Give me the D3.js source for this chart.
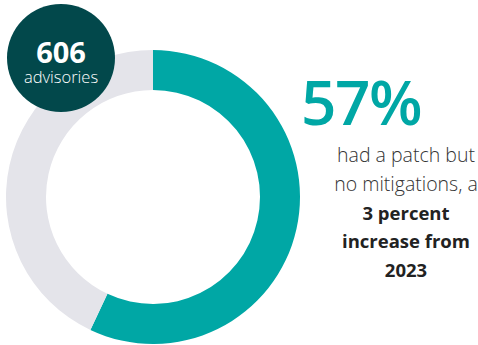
<!DOCTYPE html>
<html>
<head>
<meta charset="utf-8">
<script src="https://cdn.jsdelivr.net/npm/d3@7"></script>
<style>
  body { margin: 0; background: #fff; }
  svg { display: block; font-family: "Open Sans", "Noto Sans", sans-serif; }
</style>
</head>
<body>
<svg id="chart" width="478" height="345"></svg>
<script>
// share of advisories
var categories = ["Patch, no mitigations", "Other"];
var values = [57, 43];
var colors = ["#00a7a5", "#e4e4ea"];

var totalLabel = "606";
var totalSub = "advisories";
var bigLabel = "57%";
var noteLines = [
  { text: "had a patch but", bold: false },
  { text: "no mitigations, a", bold: false },
  { text: "3 percent", bold: true },
  { text: "increase from", bold: true },
  { text: "2023", bold: true }
];

var svg = d3.select("#chart");

var cx = 153, cy = 197,
  outerR = 147, innerR = 107;

var pie = d3.pie().sort(null).value(d => d);
var arc = d3.arc().innerRadius(innerR).outerRadius(outerR);

var g = svg.append("g")
  .attr("transform", "translate(" + cx + "," + cy + ")");

g.selectAll("path")
  .data(pie(values))
  .enter().append("path")
    .attr("d", arc)
    .attr("fill", (d, i) => colors[i]);

// total badge
var badge = svg.append("g").attr("transform", "translate(61,58)");
badge.append("circle")
  .attr("r", 54)
  .attr("fill", "#02484b");
badge.append("text")
  .attr("y", 5)
  .attr("text-anchor", "middle")
  .attr("fill", "#fff")
  .attr("font-size", 29)
  .attr("font-weight", 700)
  .text(totalLabel);
badge.append("text")
  .attr("y", 25)
  .attr("text-anchor", "middle")
  .attr("fill", "#fff")
  .attr("font-size", 16.5)
  .attr("font-weight", 300)
  .text(totalSub);

// callout
svg.append("text")
  .attr("x", 361)
  .attr("y", 125)
  .attr("text-anchor", "middle")
  .attr("fill", "#00a7a5")
  .attr("font-size", 62)
  .attr("font-weight", 600)
  .attr("letter-spacing", -1.5)
  .text(bigLabel);

svg.append("g")
  .selectAll("text")
  .data(noteLines)
  .enter().append("text")
    .attr("x", 406)
    .attr("y", (d, i) => 162 + i * 28.8)
    .attr("text-anchor", "middle")
    .attr("fill", d => d.bold ? "#222" : "#333")
    .attr("font-size", d => d.bold ? 18.5 : 19.5)
    .attr("font-weight", d => d.bold ? 700 : 300)
    .text(d => d.text);
</script>
</body>
</html>
